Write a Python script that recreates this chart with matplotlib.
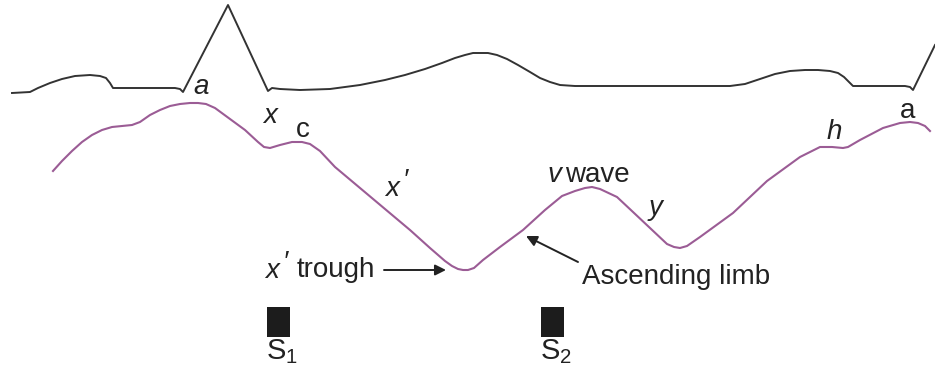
import matplotlib.pyplot as plt

plt.rcParams['font.family'] = ['Liberation Sans', 'DejaVu Sans']
plt.rcParams['mathtext.fontset'] = 'custom'
plt.rcParams['mathtext.rm'] = 'Liberation Sans'
plt.rcParams['mathtext.it'] = 'Liberation Sans:italic'

# ECG trace (x, y in drawing units, y grows downward)
ecg_x = [12, 30, 38, 50, 62, 75, 90, 100, 106, 110, 113, 140, 175, 180, 183,
         228, 268, 272, 280, 300, 330, 360, 385, 405, 425, 442, 455, 465,
         473, 480, 488, 497, 507, 518, 530, 540, 550, 560, 575, 600, 660,
         730, 745, 760, 775, 790, 805, 818, 830, 838, 844, 848, 853, 880,
         905, 910, 913, 935]
ecg_y = [93, 92, 88, 83, 79, 76, 75, 76, 78, 83, 88, 88, 88, 89, 92,
         5, 91, 88, 89, 90, 89, 85, 80, 75, 69, 63, 58, 55,
         53, 53, 53, 55, 59, 65, 72, 78, 82, 85, 86, 86, 86,
         86, 84, 79, 74, 71, 70, 70, 71, 73, 77, 81, 86, 86,
         86, 87, 90, 45]

# Jugular venous pulse trace
jvp_x = [53, 62, 72, 82, 92, 102, 112, 122, 132, 140, 150, 160, 170, 180,
         190, 198, 206, 215, 230, 245, 258, 264, 270, 280, 292, 302, 310,
         320, 335, 360, 385, 410, 430, 445, 452, 458, 463, 468, 474, 483,
         500, 523, 545, 562, 575, 585, 592, 600, 617, 633, 650, 667, 674,
         680, 687, 700, 733, 767, 800, 820, 832, 843, 848, 860, 883, 900,
         910, 918, 925, 930]
jvp_y = [171, 161, 151, 142, 135, 130, 127, 126, 125, 122, 115, 110, 106, 104,
         103, 103, 104, 108, 119, 130, 142, 147, 148, 145, 142, 142, 144,
         151, 167, 188, 209, 230, 248, 261, 266, 269, 270, 270, 268, 260,
         247, 230, 210, 196, 191, 188, 187, 189, 197, 212, 228, 244, 247,
         248, 246, 237, 213, 181, 157, 147, 147, 148, 147, 140, 128, 123,
         122, 123, 126, 131]

sound_labels = ['S$_1$', 'S$_2$']
sound_x = [278.5, 552.5]

purple = '#9b5c95'
dark = '#222222'

fig = plt.figure(figsize=(9.35, 3.76), dpi=100)
ax = fig.add_axes([0, 0, 1, 1])
ax.set_xlim(0, 935)
ax.set_ylim(376, 0)
ax.axis('off')

ax.plot(ecg_x, ecg_y, color='#333333', lw=1.4, solid_joinstyle='round')
ax.plot(jvp_x, jvp_y, color=purple, lw=1.5, solid_joinstyle='round')

# heart sound markers
ax.bar(sound_x, [30, 30], width=23, bottom=307, color='#1c1c1c')
for sx, lab in zip(sound_x, sound_labels):
    ax.text(sx - 12, 352, lab, fontsize=21, color=dark, ha='left', va='center')

fs = 20
ax.text(201, 87, 'a', fontsize=fs, style='italic', color=dark, ha='center', va='center')
ax.text(270, 116, 'x', fontsize=fs, style='italic', color=dark, ha='center', va='center')
ax.text(303, 130, 'c', fontsize=fs, color=dark, ha='center', va='center')
ax.text(392, 189, 'x', fontsize=fs, style='italic', color=dark, ha='center', va='center')
ax.text(405, 181, '\u2032', fontsize=fs, style='italic', color=dark, ha='center', va='center')
ax.text(547, 175, 'v', fontsize=fs, style='italic', color=dark, ha='left', va='center')
ax.text(565, 175, 'wave', fontsize=fs, color=dark, ha='left', va='center')
ax.text(656, 208, 'y', fontsize=fs, style='italic', color=dark, ha='center', va='center')
ax.text(834, 132, 'h', fontsize=fs, style='italic', color=dark, ha='center', va='center')
ax.text(908, 111, 'a', fontsize=fs, color=dark, ha='center', va='center')

ax.text(265, 271, 'x', fontsize=fs, style='italic', color=dark, ha='left', va='center')
ax.text(285, 263, '\u2032', fontsize=fs, style='italic', color=dark, ha='center', va='center')
ax.text(297, 270, 'trough', fontsize=fs, color=dark, ha='left', va='center')
ax.annotate('', xy=(446, 270), xytext=(384, 270),
            arrowprops=dict(arrowstyle='-|>', color=dark, lw=1.4,
                            mutation_scale=16, shrinkA=0, shrinkB=0))

ax.text(582, 277, 'Ascending limb', fontsize=fs, color=dark, ha='left', va='center')
ax.annotate('', xy=(526, 236), xytext=(578, 262),
            arrowprops=dict(arrowstyle='-|>', color=dark, lw=1.4,
                            mutation_scale=16, shrinkA=0, shrinkB=0))

fig.savefig('out.png', dpi=100)
